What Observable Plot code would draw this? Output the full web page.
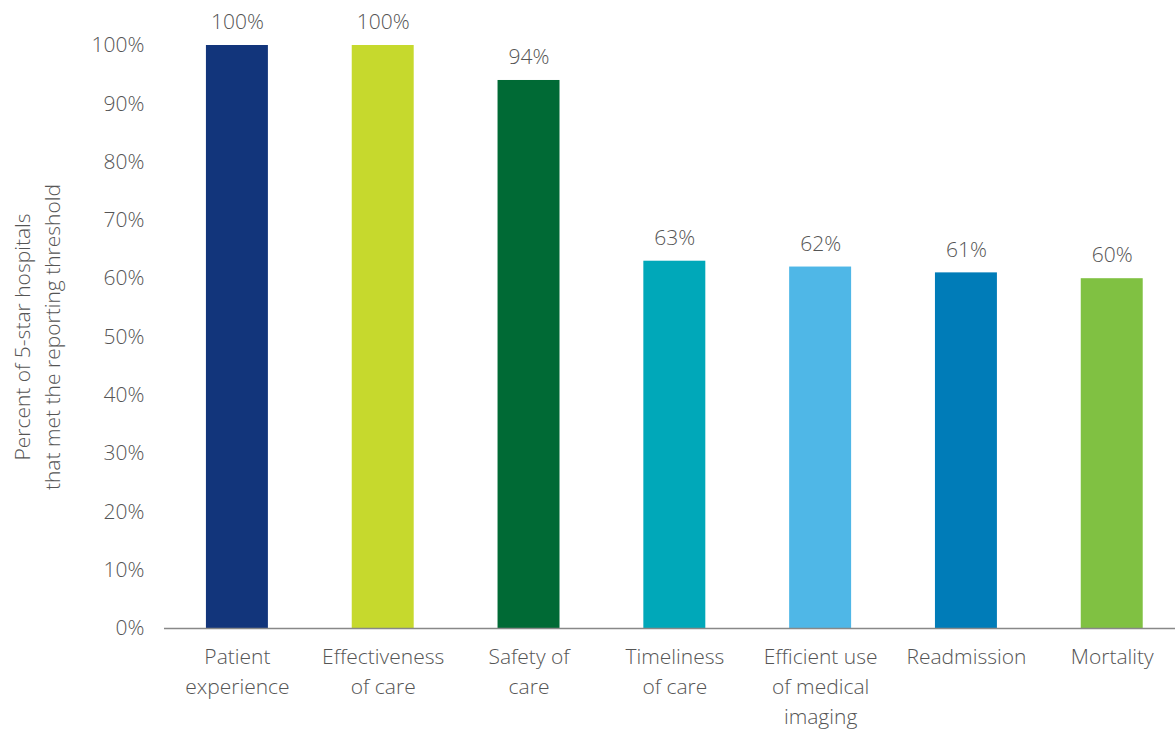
<!DOCTYPE html>
<html>
<head>
<meta charset="utf-8">
<script src="https://cdn.jsdelivr.net/npm/d3@7"></script>
<script src="https://cdn.jsdelivr.net/npm/@observablehq/plot@0.6"></script>
<style>
  html, body { margin: 0; padding: 0; background: #fff; }
  svg { font-family: "Open Sans", "Noto Sans", sans-serif; font-weight: 300; }
</style>
</head>
<body>
<div id="chart"></div>
<script>
const categories = ["Patient experience", "Effectiveness of care", "Safety of care", "Timeliness of care", "Efficient use of medical imaging", "Readmission", "Mortality"];
const tickLabels = ["Patient\nexperience", "Effectiveness\nof care", "Safety of\ncare", "Timeliness\nof care", "Efficient use\nof medical\nimaging", "Readmission", "Mortality"];
const values = [1.00, 1.00, 0.94, 0.63, 0.62, 0.61, 0.60];
const colors = ["#12357b", "#c6d92d", "#006a35", "#00a8b9", "#4fb7e7", "#007cb8", "#80c142"];
const yTicks = [0, 0.1, 0.2, 0.3, 0.4, 0.5, 0.6, 0.7, 0.8, 0.9, 1.0];
const yTitle = "Percent of 5-star hospitals\nthat met the reporting threshold";

const data = categories.map((c, i) => ({category: c, value: values[i], label: tickLabels[i], color: colors[i]}));

const FS = 21;
const LH = 30 / FS;

const chart = Plot.plot({
  width: 1175,
  height: 730,
  marginLeft: 164,
  marginRight: 0,
  marginTop: 45,
  marginBottom: 102,
  style: {fontFamily: '"Open Sans", "Noto Sans", sans-serif', fontSize: FS + "px", color: "#555"},
  x: {domain: categories, paddingInner: 0.575, paddingOuter: 0.2545, align: 0.565, round: false, axis: null},
  y: {domain: [0, 1], axis: null},
  marks: [
    Plot.barY(data, {x: "category", y: "value", fill: "color"}),
    Plot.ruleY([0], {stroke: "#888", strokeWidth: 1.5}),
    Plot.axisY({ticks: yTicks, tickSize: 0, tickPadding: 20, tickFormat: d => Math.round(d * 100) + "%", fontSize: FS, fill: "#555", label: null}),
    Plot.text(data, {x: "category", y: 0, text: "label", lineAnchor: "top", dy: 14, lineHeight: LH, fontSize: FS, fill: "#555", fontWeight: 300}),
    Plot.text(data, {x: "category", y: "value", text: d => Math.round(d.value * 100) + "%", dy: -23, fontSize: FS, fill: "#555", fontWeight: 300}),
    Plot.text([yTitle], {frameAnchor: "left", textAnchor: "middle", text: d => d, rotate: -90, dx: -129, lineHeight: LH, fontSize: FS, fill: "#555", fontWeight: 300})
  ]
});
document.getElementById("chart").appendChild(chart);
</script>
</body>
</html>
